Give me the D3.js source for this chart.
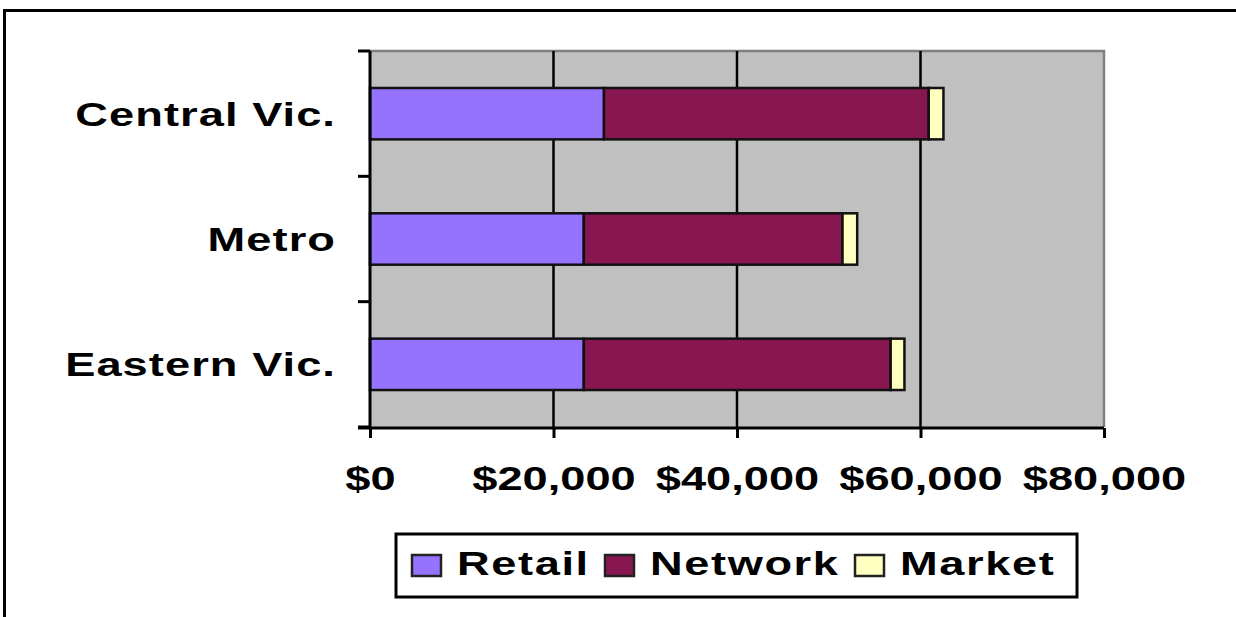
<!DOCTYPE html>
<html>
<head>
<meta charset="utf-8">
<script src="https://cdn.jsdelivr.net/npm/d3@7"></script>
<style>
  body { margin: 0; background: #fff; }
  svg { display: block; }
  text { font-family: "Liberation Sans", Arial, sans-serif; font-weight: bold; fill: #000; }
</style>
</head>
<body>
<div id="viz"></div>
<script>
// data
var regions = ["Central Vic.", "Metro", "Eastern Vic."];
var seriesNames = ["Retail", "Network", "Market"];
var retail  = [25500, 23300, 23300];
var network = [35400, 28200, 33450];
var market  = [1600, 1600, 1500];
var xTicks = [0, 20000, 40000, 60000, 80000];
var colours = ["#9673ff", "#871651", "#ffffc0"];

var W = 1236, H = 617;
var stretch = 1.33; // the text in the picture is drawn wide

var rows = regions.map(function(r, i) {
    return { region: r, Retail: retail[i], Network: network[i], Market: market[i] };
});

var svg = d3.select("#viz").append("svg")
    .attr("width", W)
    .attr("height", H);

// outer frame (only top and left edges are in view)
svg.append("rect")
    .attr("x", 4.5).attr("y", 10.5)
    .attr("width", W + 20).attr("height", H + 20)
    .attr("fill", "#fff")
    .attr("stroke", "#000")
    .attr("stroke-width", 3);

var plot = { left: 370, right: 1104, top: 51, bottom: 427 };

var x = d3.scaleLinear()
    .domain([0, 80000])
    .range([plot.left, plot.right]);

var y = d3.scaleBand()
    .domain(regions)
    .range([plot.top, plot.bottom])
    .paddingInner(0.59)
    .paddingOuter(0.295);

// plot background
svg.append("rect")
    .attr("x", plot.left).attr("y", plot.top)
    .attr("width", plot.right - plot.left)
    .attr("height", plot.bottom - plot.top)
    .attr("fill", "#c0c0c0");

// grey border on top and right
svg.append("path")
    .attr("d", "M" + plot.left + "," + plot.top + "H" + plot.right + "V" + plot.bottom)
    .attr("fill", "none")
    .attr("stroke", "#808080")
    .attr("stroke-width", 2.5);

// vertical gridlines
svg.append("g")
    .selectAll("line")
    .data(xTicks.slice(1, -1))
    .enter()
    .append("line")
    .attr("x1", function(d) { return x(d); })
    .attr("x2", function(d) { return x(d); })
    .attr("y1", plot.top)
    .attr("y2", plot.bottom)
    .attr("stroke", "#000")
    .attr("stroke-width", 2.5);

// stacked bars
var stacked = d3.stack().keys(seriesNames)(rows);

svg.append("g")
    .selectAll("g")
    .data(stacked)
    .enter()
    .append("g")
    .attr("fill", function(d, i) { return colours[i]; })
    .selectAll("rect")
    .data(function(d) { return d; })
    .enter()
    .append("rect")
    .attr("x", function(d) { return x(d[0]); })
    .attr("y", function(d) { return y(d.data.region); })
    .attr("width", function(d) { return x(d[1]) - x(d[0]); })
    .attr("height", y.bandwidth())
    .attr("stroke", "#111")
    .attr("stroke-width", 2.5);

// bottom axis
var xAxis = svg.append("g")
    .attr("transform", "translate(0," + (plot.bottom + 1) + ")")
    .call(d3.axisBottom(x).tickValues(xTicks).tickFormat(d3.format("$,")).tickSize(10).tickSizeOuter(0));
xAxis.select(".domain").attr("stroke", "#000").attr("stroke-width", 3)
    .attr("d", "M" + (plot.left - 12) + ",0H" + plot.right);
xAxis.selectAll(".tick line").attr("stroke", "#000").attr("stroke-width", 3);
xAxis.selectAll(".tick text")
    .attr("y", 0)
    .attr("dy", 0)
    .attr("transform", "translate(0,62) scale(" + stretch + ",1)")
    .style("font-size", "34px")
    .style("font-family", "'Liberation Sans', Arial, sans-serif")
    .style("font-weight", "bold");

// left axis: line, ticks at band edges, labels at band centres
var step = y.step();
var edges = [0, 1, 2, 3].map(function(i) { return plot.top + i * step; });

svg.append("line")
    .attr("x1", plot.left).attr("x2", plot.left)
    .attr("y1", plot.top).attr("y2", plot.bottom + 2)
    .attr("stroke", "#000").attr("stroke-width", 3);

svg.append("g")
    .selectAll("line")
    .data(edges)
    .enter()
    .append("line")
    .attr("x1", plot.left - 12).attr("x2", plot.left)
    .attr("y1", function(d) { return d; })
    .attr("y2", function(d) { return d; })
    .attr("stroke", "#000").attr("stroke-width", 3);

svg.append("g")
    .selectAll("text")
    .data(regions)
    .enter()
    .append("text")
    .attr("text-anchor", "end")
    .attr("transform", function(d) {
        return "translate(336," + (y(d) + y.bandwidth() / 2 + 12) + ") scale(" + stretch + ",1)";
    })
    .style("font-size", "34px")
    .style("letter-spacing", "0.8px")
    .text(function(d) { return d; });

// legend
var legend = svg.append("g");
legend.append("rect")
    .attr("x", 396).attr("y", 534)
    .attr("width", 681).attr("height", 63)
    .attr("fill", "#fff")
    .attr("stroke", "#000")
    .attr("stroke-width", 3);

var legendX = [411, 604, 854];
var items = legend.selectAll("g.item")
    .data(seriesNames)
    .enter()
    .append("g")
    .attr("class", "item")
    .attr("transform", function(d, i) { return "translate(" + legendX[i] + ",0)"; });

items.append("rect")
    .attr("x", 1).attr("y", 555)
    .attr("width", 29).attr("height", 21)
    .attr("fill", function(d, i) { return colours[i]; })
    .attr("stroke", "#222")
    .attr("stroke-width", 2.5);

items.append("text")
    .attr("transform", "translate(46,575) scale(" + stretch + ",1)")
    .style("font-size", "34px")
    .style("letter-spacing", "1.2px")
    .text(function(d) { return d; });
</script>
</body>
</html>
